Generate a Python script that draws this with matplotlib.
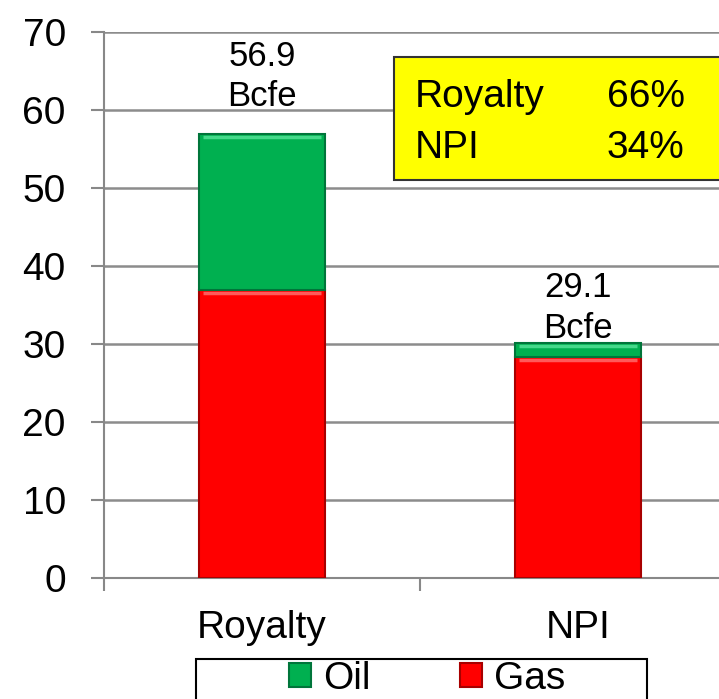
import matplotlib
matplotlib.use('Agg')
import matplotlib.pyplot as plt
import numpy as np

plt.rcParams['font.family'] = ['Liberation Sans', 'DejaVu Sans']

categories = ['Royalty', 'NPI']
gas = [36.9, 28.3]
oil = [20.0, 1.8]
totals_text = ['56.9\nBcfe', '29.1\nBcfe']
share_names = ['Royalty', 'NPI']
share_pct = ['66%', '34%']

W, H = 719, 699
fig = plt.figure(figsize=(W / 100, H / 100), dpi=100)
# axes runs a bit past the right edge, like the cropped original
ax = fig.add_axes([104 / W, 1 - 578 / H, 632 / W, (578 - 32) / H])

x = np.arange(len(categories))
w = 0.4
b_gas = ax.bar(x, gas, w, color='#FF0000', edgecolor='#A80000', linewidth=1.5,
               label='Gas', zorder=3)
b_oil = ax.bar(x, oil, w, bottom=gas, color='#00B050', edgecolor='#00753A',
               linewidth=1.5, label='Oil', zorder=3)

# light bevel line near the top of each segment
for bars, hl in [(b_gas, '#FF5A5A'), (b_oil, '#45D98A')]:
    for r in bars:
        x0, x1 = r.get_x() + 0.012, r.get_x() + r.get_width() - 0.012
        top = r.get_y() + r.get_height()
        ax.plot([x0, x1], [top - 0.3, top - 0.3], color=hl, lw=2.5, zorder=4,
                solid_capstyle='butt')

pads = [15, -1]
for i, t in enumerate(totals_text):
    ax.annotate(t, (x[i], gas[i] + oil[i]), xytext=(0, pads[i]),
                textcoords='offset points', ha='center', va='bottom',
                fontsize=25, linespacing=1.3)

ax.set_xlim(-0.5, 1.5)
ax.set_ylim(0, 70)
ax.set_yticks(range(0, 71, 10))
ax.set_xticks(x)
ax.set_xticklabels(categories)
ax.tick_params(axis='both', labelsize=28, colors='#888888', labelcolor='black',
               length=9.5, width=1.5)
ax.tick_params(axis='x', length=0, pad=23)
ax.set_xticks([-0.5, 0.5, 1.5], minor=True)
ax.tick_params(axis='x', which='minor', length=9, width=1.5, colors='#888888')
ax.tick_params(axis='y', pad=18)

ax.grid(axis='y', color='#8C8C8C', linewidth=1.8, zorder=0)
for s in ['top', 'right']:
    ax.spines[s].set_visible(False)
for s in ['left', 'bottom']:
    ax.spines[s].set_color('#888888')
    ax.spines[s].set_linewidth(1.5)

# yellow share box
fig.patches.append(plt.Rectangle((394 / W, 1 - 180 / H), 0.5, 123 / H,
                                 transform=fig.transFigure, facecolor='#FFFF00',
                                 edgecolor='#333333', linewidth=1.5, zorder=5))
for j, (n, p) in enumerate(zip(share_names, share_pct)):
    yy = 1 - (107 + 51 * j) / H
    fig.text(415 / W, yy, n, fontsize=28, va='baseline', ha='left', zorder=6)
    fig.text(607 / W, yy, p, fontsize=28, va='baseline', ha='left', zorder=6)

# legend frame (wider than its content, cut by the bottom edge)
fig.patches.append(plt.Rectangle((196 / W, -0.05), 451 / W, 0.05 + 1 - 659 / H,
                                 transform=fig.transFigure, facecolor='white',
                                 edgecolor='black', linewidth=1.5))
leg = fig.legend([b_oil, b_gas], ['Oil', 'Gas'], loc='center',
                 bbox_to_anchor=(427 / W, 1 - 679 / H), ncol=2, fontsize=28,
                 frameon=False, handlelength=0.57, handleheight=0.57,
                 handletextpad=0.3, columnspacing=2.3, borderpad=0,
                 borderaxespad=0)

fig.savefig('out.png', dpi=100)
